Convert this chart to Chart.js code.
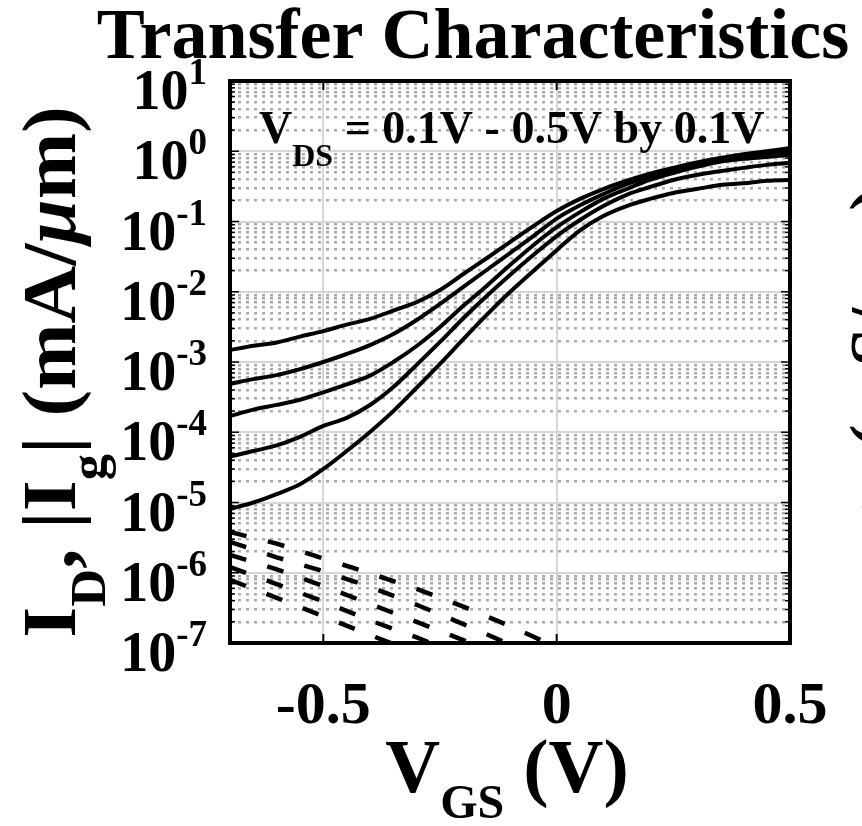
<!DOCTYPE html>
<html>
<head>
<meta charset="utf-8">
<title>Transfer Characteristics</title>
<script src="https://cdn.jsdelivr.net/npm/chart.js@4.4.1/dist/chart.umd.min.js"></script>
<style>
  body { margin: 0; background: #fff; }
  #wrap { width: 862px; height: 826px; position: relative; }
</style>
</head>
<body>
<div id="wrap"><canvas id="myChart"></canvas></div>
<script>
// gate voltage sweep (V)
const vgs = [-0.7, -0.65, -0.6, -0.55, -0.5, -0.45, -0.4, -0.35, -0.3, -0.25, -0.2, -0.15, -0.1,
  -0.05, 0, 0.05, 0.1, 0.15, 0.2, 0.25, 0.3, 0.35, 0.4, 0.45, 0.5]

// drain current ID (mA/um), one array per VDS
const idVds05 = [1.48e-3, 1.7e-3, 1.9e-3, 2.3e-3, 2.75e-3, 3.4e-3, 4.1e-3, 5.4e-3, 7.1e-3, 1.06e-2, 1.79e-2, 3.0e-2, 5.1e-2,
  8.6e-2, 0.141, 0.21, 0.29, 0.38, 0.48, 0.58, 0.69, 0.80, 0.91, 1.0, 1.11]
const idVds04 = [4.9e-4, 5.7e-4, 6.5e-4, 7.9e-4, 1.0e-3, 1.3e-3, 1.74e-3, 2.5e-3, 3.96e-3, 6.7e-3, 1.17e-2, 2.04e-2, 3.56e-2,
  6.2e-2, 0.11, 0.17, 0.245, 0.34, 0.43, 0.54, 0.65, 0.75, 0.84, 0.93, 1.0]
const idVds03 = [1.7e-4, 2.1e-4, 2.45e-4, 2.9e-4, 3.7e-4, 4.8e-4, 6.4e-4, 1.0e-3, 1.69e-3, 3.15e-3, 6.3e-3, 1.21e-2, 2.4e-2,
  4.6e-2, 8.3e-2, 0.136, 0.21, 0.29, 0.39, 0.49, 0.60, 0.71, 0.78, 0.83, 0.89]
const idVds02 = [4.5e-5, 5.4e-5, 6.5e-5, 8.6e-5, 1.23e-4, 1.6e-4, 2.44e-4, 4.4e-4, 9.1e-4, 1.93e-3, 4.2e-3, 8.7e-3, 1.73e-2,
  3.33e-2, 6.2e-2, 0.105, 0.166, 0.24, 0.31, 0.39, 0.46, 0.52, 0.58, 0.64, 0.68]
const idVds01 = [8.1e-6, 1.0e-5, 1.32e-5, 1.82e-5, 3.0e-5, 5.4e-5, 1.01e-4, 2.0e-4, 4.3e-4, 9.4e-4, 2.12e-3, 4.7e-3, 9.9e-3,
  1.97e-2, 3.9e-2, 7.5e-2, 0.12, 0.166, 0.21, 0.255, 0.29, 0.33, 0.35, 0.38, 0.39]

// gate leakage |Ig| (mA/um)
const vgsGate = [-0.7, -0.6, -0.5, -0.4, -0.3, -0.2, -0.1, 0]
const igVds05 = [3.8e-6, 2.6e-6, 1.6e-6, 9.8e-7, 5.9e-7, 3.3e-7, 1.74e-7, 8.7e-8]
const igVds04 = [2.75e-6, 1.66e-6, 1.05e-6, 6.3e-7, 3.5e-7, 1.86e-7, 9.5e-8]
const igVds03 = [1.8e-6, 1.12e-6, 6.5e-7, 3.6e-7, 2.0e-7, 1.1e-7, 5.6e-8]
const igVds02 = [1.2e-6, 6.9e-7, 3.9e-7, 2.1e-7, 1.2e-7, 6.6e-8]
const igVds01 = [7.9e-7, 4.4e-7, 2.4e-7, 1.3e-7, 7.2e-8]

// axis ticks
const xTicks = [-0.5, 0, 0.5]
const xTickLabels = ['-0.5', '0', '0.5']
const yExponents = [1, 0, -1, -2, -3, -4, -5, -6, -7]

const serif = '"Liberation Serif", "Times New Roman", serif'

function esDecada(v) {
  let l = Math.log10(v)
  return Math.abs(l - Math.round(l)) < 1e-6
}

function serie(xs, ys) {
  return ys.map((v, i) => ({ x: xs[i], y: v }))
}

function curvaId(ys) {
  return { data: serie(vgs, ys), borderColor: '#000', borderWidth: 4, pointRadius: 0, cubicInterpolationMode: 'monotone' }
}

function curvaIg(ys) {
  return { data: serie(vgsGate, ys), borderColor: '#000', borderWidth: 4.5, pointRadius: 0, borderDash: [17, 22] }
}

function fuente(p) {
  return (p.it ? 'italic ' : '') + 'bold ' + p.s + 'px ' + serif
}

// text with sub/superscripts: parts = [{t, s, dy, it}]
function textoCompuesto(ctx, partes, x, y, align) {
  let total = 0
  partes.forEach(p => { ctx.font = fuente(p); total += ctx.measureText(p.t).width })
  let cx = x
  if (align === 'center') cx = x - total / 2
  if (align === 'right') cx = x - total
  ctx.textAlign = 'left'
  ctx.textBaseline = 'alphabetic'
  partes.forEach(p => {
    ctx.font = fuente(p)
    ctx.fillText(p.t, cx, y + (p.dy || 0))
    cx += ctx.measureText(p.t).width
  })
}

function linea(ctx, x1, y1, x2, y2) {
  ctx.beginPath()
  ctx.moveTo(x1, y1)
  ctx.lineTo(x2, y2)
  ctx.stroke()
}

const textos = {
  id: 'textos',
  afterDraw(chart) {
    const ctx = chart.ctx
    const a = chart.chartArea
    const sx = chart.scales.x
    const sy = chart.scales.y
    ctx.save()
    ctx.fillStyle = '#000'
    ctx.strokeStyle = '#000'

    // inward tick marks
    ctx.lineWidth = 1.5
    sy.ticks.forEach(t => {
      let py = sy.getPixelForValue(t.value)
      let len = esDecada(t.value) ? 9 : 5
      linea(ctx, a.left, py, a.left + len, py)
      linea(ctx, a.right, py, a.right - len, py)
    })
    ctx.lineWidth = 2
    sx.ticks.forEach(t => {
      let px = sx.getPixelForValue(t.value)
      linea(ctx, px, a.bottom, px, a.bottom - 9)
      linea(ctx, px, a.top, px, a.top + 9)
    })

    // box
    ctx.lineWidth = 4
    ctx.strokeRect(a.left, a.top, a.right - a.left, a.bottom - a.top)

    // y tick labels 10^n
    yExponents.forEach(e => {
      let py = sy.getPixelForValue(Math.pow(10, e))
      textoCompuesto(ctx, [{ t: '10', s: 56 }, { t: String(e), s: 37, dy: -25 }], 207, py + 28, 'right')
    })

    // x tick labels
    xTicks.forEach((v, i) => {
      textoCompuesto(ctx, [{ t: xTickLabels[i], s: 60 }], sx.getPixelForValue(v), 723, 'center')
    })

    // title
    textoCompuesto(ctx, [{ t: 'Transfer Characteristics', s: 72 }], 473, 58, 'center')

    // x label
    textoCompuesto(ctx, [{ t: 'V', s: 76 }, { t: 'GS', s: 48, dy: 26 }, { t: ' (V)', s: 76 }], 507, 792, 'center')

    // VDS note
    textoCompuesto(ctx, [{ t: 'V', s: 46 }, { t: 'DS', s: 32, dy: 23 }, { t: ' = 0.1V - 0.5V by 0.1V', s: 46 }], 259, 143, 'left')

    // y label (left), slightly stretched along the text
    ctx.save()
    ctx.translate(75, 372)
    ctx.rotate(-Math.PI / 2)
    ctx.scale(1.05, 1)
    textoCompuesto(ctx, [{ t: 'I', s: 76 }, { t: 'D', s: 50, dy: 30 }, { t: ', |I', s: 76 }, { t: 'g', s: 50, dy: 30 },
      { t: '| (mA/', s: 76 }, { t: '\u03bc', s: 76, it: true }, { t: 'm)', s: 76 }], 0, 0, 'center')
    ctx.restore()

    // gm label of the right axis, mostly off the canvas
    ctx.save()
    ctx.translate(898, 363)
    ctx.rotate(-Math.PI / 2)
    textoCompuesto(ctx, [{ t: 'g', s: 70 }, { t: 'm', s: 46, dy: 26 }, { t: ' (mS/', s: 70 }, { t: '\u03bc', s: 70, it: true },
      { t: 'm)', s: 70 }], 0, 0, 'center')
    ctx.restore()

    ctx.restore()
  }
}

const graf = document.getElementById('myChart').getContext('2d')

const myChart = new Chart(graf, {
  type: 'line',
  data: {
    datasets: [
      curvaId(idVds05), curvaId(idVds04), curvaId(idVds03), curvaId(idVds02), curvaId(idVds01),
      curvaIg(igVds05), curvaIg(igVds04), curvaIg(igVds03), curvaIg(igVds02), curvaIg(igVds01)
    ]
  },
  options: {
    responsive: true,
    maintainAspectRatio: false,
    animation: false,
    events: [],
    layout: { padding: { left: 230, right: 72, top: 81, bottom: 183 } },
    plugins: { legend: { display: false }, tooltip: { enabled: false } },
    scales: {
      x: {
        type: 'linear',
        min: -0.7,
        max: 0.5,
        afterBuildTicks: s => { s.ticks = xTicks.map(v => ({ value: v })) },
        ticks: { display: false },
        grid: { color: '#d6d6d6', lineWidth: 2, drawTicks: false },
        border: { display: false }
      },
      y: {
        type: 'logarithmic',
        min: 1e-7,
        max: 10,
        afterBuildTicks: s => {
          let t = []
          for (let e = -7; e <= 0; e++) {
            for (let k = 1; k <= 9; k++) t.push({ value: k * Math.pow(10, e) })
          }
          t.push({ value: 10 })
          s.ticks = t
        },
        ticks: { display: false },
        grid: {
          color: c => (c.tick && esDecada(c.tick.value)) ? '#d6d6d6' : '#ababab',
          lineWidth: c => (c.tick && esDecada(c.tick.value)) ? 2 : 2.5,
          drawTicks: false
        },
        border: { display: false, dash: c => (c.tick && esDecada(c.tick.value)) ? [] : [3, 5] }
      }
    }
  },
  plugins: [textos]
})
</script>
</body>
</html>
